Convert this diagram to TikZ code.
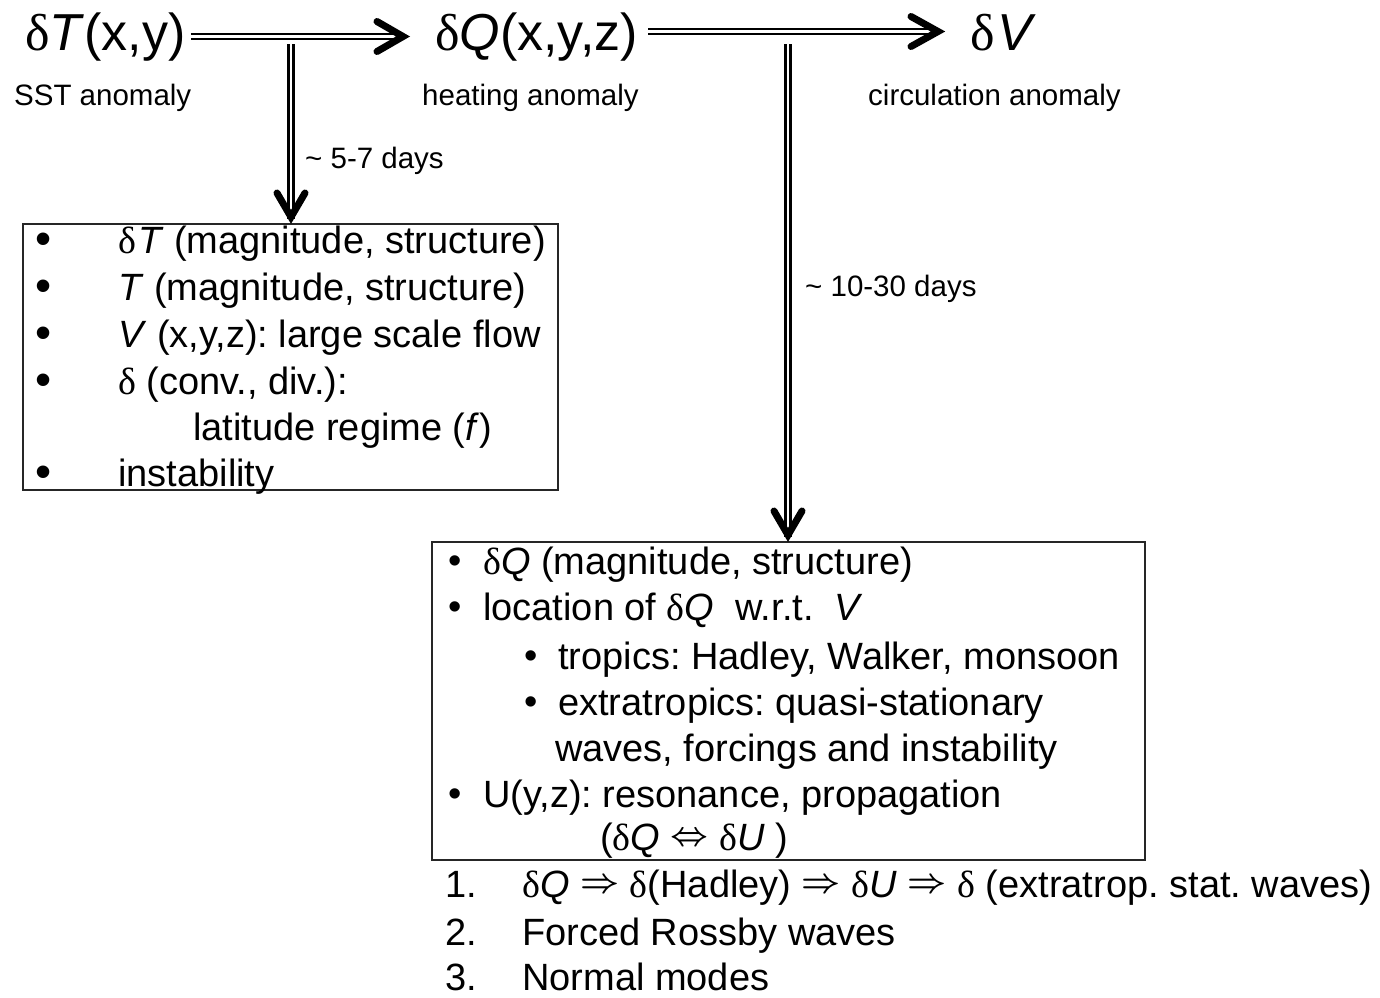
\documentclass[tikz,border=0pt]{standalone}
\usepackage{fontspec}
\setmainfont{Liberation Sans}
\newfontfamily\grkfont{Liberation Serif}
\newcommand\dl{{\grkfont δ}}
\newcommand\rarr{\raisebox{5pt}{\scalebox{3.4}{\normalsize\boldmath$\Rightarrow$}}}
\newcommand\lrarr{\raisebox{5pt}{\scalebox{3.3}{\normalsize\boldmath$\Leftrightarrow$}}}
\frenchspacing
\begin{document}
\begin{tikzpicture}[x=1pt,y=-1pt,
  big/.style={font=\fontsize{52}{62}\selectfont, inner sep=0pt, anchor=base west},
  lab/.style={font=\fontsize{29.5}{36}\selectfont, inner sep=0pt, anchor=base west},
  txt/.style={font=\fontsize{38}{46}\selectfont, inner sep=0pt, anchor=base west},
  bulA/.style={font=\fontsize{46}{56}\selectfont, inner sep=0pt, anchor=center},
  bulB/.style={font=\fontsize{38}{46}\selectfont, inner sep=0pt, anchor=center},
  shaft/.style={draw, double, line width=2.4pt, double distance=2.8pt},
  chev/.style={draw, line width=7pt, line join=miter, line cap=round},
  box/.style={draw=black!85, line width=1.3pt, inner sep=0pt}
]
\useasboundingbox (0,0) rectangle (1380,997);

% top row
\node[big] (dT) at (25,50) {\dl\textit{T}(x,y)};
\node[big] (dQ) at (435,50) {\dl\textit{Q}(x,y,z)};
\node[big] (dV) at (970,50) {\dl\kern3pt\textit{V}};

\node[lab] (l1) at (14,105) {SST anomaly};
\node[lab] (l2) at (422,105) {heating anomaly};
\node[lab] (l3) at (868,105) {circulation anomaly};

% boxes
\node[box, minimum width=535pt, minimum height=266pt] (box1) at (290.5,357) {};
\node[box, minimum width=713pt, minimum height=318pt] (box2) at (788.5,701) {};

% horizontal arrows
\coordinate (a1) at (403,36.5);
\coordinate (a2) at (938,31.5);
\draw[shaft] ([xshift=5pt]dT.east |- a1) -- ([xshift=-6pt]a1);
\draw[chev] ([shift={(-26,-15)}]a1) -- (a1) -- ([shift={(-26,15)}]a1);
\draw[shaft] ([xshift=10pt]dQ.east |- a2) -- ([xshift=-6pt]a2);
\draw[chev] ([shift={(-27,-15)}]a2) -- (a2) -- ([shift={(-27,15)}]a2);

% vertical arrows
\coordinate (v1) at (291,44);
\coordinate (v2) at (788,44);
\coordinate (t1) at (291,217);
\coordinate (t2) at (788,535);
\draw[shaft] (v1) -- ([yshift=-2pt]t1);
\draw[chev] ([shift={(-14,-24)}]t1) -- (t1) -- ([shift={(14,-24)}]t1);
\draw[shaft] (v2) -- ([yshift=-2pt]t2);
\draw[chev] ([shift={(-14,-24)}]t2) -- (t2) -- ([shift={(14,-24)}]t2);

\node[lab] (d1) at (305,168) {\textasciitilde\ 5-7 days};
\node[lab] (d2) at (805,296) {\textasciitilde\ 10-30 days};

% box 1 content
\node[bulA] (b11) at (44,244) {•};
\node[bulA] (b12) at (44,291) {•};
\node[bulA] (b13) at (44,338) {•};
\node[bulA] (b14) at (44,385) {•};
\node[bulA] (b15) at (44,477) {•};
\node[txt] (s11) at (118,253) {\dl\kern2pt\textit{T} (magnitude, structure)};
\node[txt] (s12) at (118,300) {\textit{T} (magnitude, structure)};
\node[txt] (s13) at (118,347) {\textit{V} (x,y,z): large scale flow};
\node[txt] (s14) at (118,394) {\dl\ (conv., div.):};
\node[txt] (s15) at (193,440) {latitude regime (\textit{f})};
\node[txt] (s16) at (118,486) {instability};

% box 2 content
\node[bulB] (b21) at (455,565) {•};
\node[bulB] (b22) at (455,611) {•};
\node[bulB] (b23) at (531,660) {•};
\node[bulB] (b24) at (531,706) {•};
\node[bulB] (b25) at (455,798) {•};
\node[txt] (s21) at (483,574) {\dl\textit{Q} (magnitude, structure)};
\node[txt] (s22) at (483,620) {location of \dl\textit{Q}\ \ w.r.t.\ \ \textit{V}};
\node[txt] (s23) at (558,669) {tropics: Hadley, Walker, monsoon};
\node[txt] (s24) at (558,715) {extratropics: quasi-stationary};
\node[txt] (s25) at (555,761) {waves, forcings and instability};
\node[txt] (s26) at (483,807) {U(y,z): resonance, propagation};
\node[txt] (s27) at (600,850) {(\dl\textit{Q} \lrarr\ \dl\textit{U}\ )};

% numbered list
\node[txt] (n1) at (445,897) {1.};
\node[txt] (n2) at (445,945) {2.};
\node[txt] (n3) at (445,990) {3.};
\node[txt] (m1) at (522,897) {\dl\textit{Q} \rarr\ \dl(Hadley) \rarr\ \dl\textit{U} \rarr\ \dl\ (extratrop. stat. waves)};
\node[txt] (m2) at (522,945) {Forced Rossby waves};
\node[txt] (m3) at (522,990) {Normal modes};
\end{tikzpicture}
\end{document}
